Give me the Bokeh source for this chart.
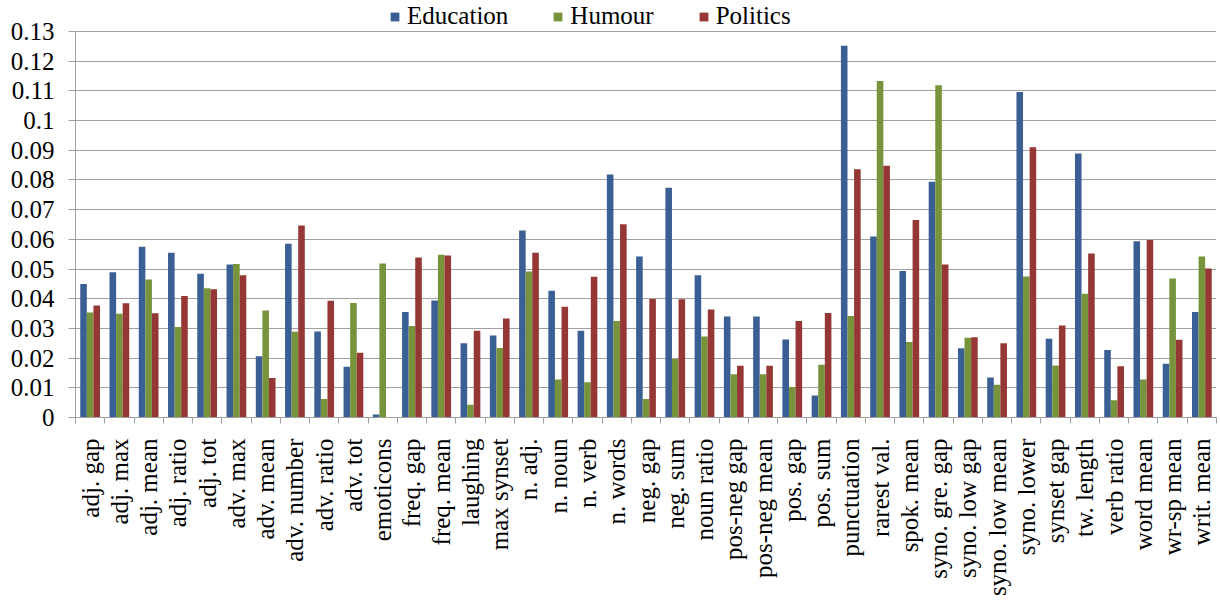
import math
from bokeh.plotting import figure
from bokeh.models import (Range1d, LinearAxis, FixedTicker, Legend, LegendItem,
                          ColumnDataSource)
from bokeh.transform import dodge
from bokeh.embed import file_html
from bokeh.resources import INLINE

categories = ["adj. gap", "adj. max", "adj. mean", "adj. ratio", "adj. tot", "adv. max",
              "adv. mean", "adv. number", "adv. ratio", "adv. tot", "emoticons", "freq. gap",
              "freq. mean", "laughing", "max synset", "n. adj.", "n. noun", "n. verb",
              "n. words", "neg. gap", "neg. sum", "noun ratio", "pos-neg gap", "pos-neg mean",
              "pos. gap", "pos. sum", "punctuation", "rarest val.", "spok. mean",
              "syno. gre. gap", "syno. low gap", "syno. low mean", "syno. lower",
              "synset gap", "tw. length", "verb ratio", "word mean", "wr-sp mean", "writ. mean"]

education = [0.0450, 0.0489, 0.0575, 0.0555, 0.0484, 0.0515, 0.0206, 0.0585, 0.0290, 0.0171,
             0.0010, 0.0355, 0.0394, 0.0250, 0.0276, 0.0630, 0.0427, 0.0292, 0.0818, 0.0542,
             0.0774, 0.0479, 0.0340, 0.0340, 0.0263, 0.0074, 0.1252, 0.0610, 0.0493, 0.0794,
             0.0233, 0.0135, 0.1096, 0.0265, 0.0889, 0.0227, 0.0594, 0.0181, 0.0355]
humour = [0.0354, 0.0349, 0.0465, 0.0305, 0.0435, 0.0517, 0.0360, 0.0289, 0.0062, 0.0386,
          0.0519, 0.0308, 0.0548, 0.0043, 0.0234, 0.0492, 0.0128, 0.0119, 0.0325, 0.0062,
          0.0197, 0.0273, 0.0146, 0.0146, 0.0103, 0.0178, 0.0342, 0.1133, 0.0254, 0.1119,
          0.0269, 0.0110, 0.0475, 0.0175, 0.0417, 0.0058, 0.0128, 0.0468, 0.0542]
politics = [0.0377, 0.0385, 0.0351, 0.0409, 0.0432, 0.0479, 0.0133, 0.0647, 0.0393, 0.0218,
            0.0000, 0.0539, 0.0546, 0.0292, 0.0333, 0.0555, 0.0373, 0.0474, 0.0651, 0.0399,
            0.0398, 0.0364, 0.0174, 0.0174, 0.0325, 0.0352, 0.0836, 0.0848, 0.0665, 0.0515,
            0.0270, 0.0250, 0.0910, 0.0310, 0.0552, 0.0173, 0.0598, 0.0262, 0.0502]

series_names = ["Education", "Humour", "Politics"]
series_colors = ["#3A5F94", "#77933C", "#953735"]

y_ticks = [0, 0.01, 0.02, 0.03, 0.04, 0.05, 0.06, 0.07, 0.08, 0.09, 0.1, 0.11, 0.12, 0.13]
y_tick_labels = ["0", "0.01", "0.02", "0.03", "0.04", "0.05", "0.06", "0.07", "0.08",
                 "0.09", "0.1", "0.11", "0.12", "0.13"]

FONT = "Liberation Serif"
GRAY = "#A0A0A0"
n = len(categories)
centers = [i + 0.5 for i in range(n)]      # category slot centres
bounds = list(range(n + 1))               # category slot boundaries
y_top = y_ticks[-1]

# frame spans the whole height above the x axis; the extra headroom holds the legend
p = figure(x_range=Range1d(0, n), y_range=Range1d(0, y_top * 417 / 386),
           width=1220, height=601, output_backend="svg", toolbar_location=None,
           x_axis_location=None, y_axis_location="left",
           min_border_left=75, min_border_right=4, min_border_top=0, min_border_bottom=184)
p.outline_line_color = None
p.xgrid.visible = False

p.yaxis.ticker = FixedTicker(ticks=y_ticks)
p.yaxis.bounds = (0, y_top)
p.yaxis.major_label_overrides = dict(zip(y_ticks, y_tick_labels))
p.yaxis.major_label_text_font = FONT
p.yaxis.major_label_text_font_size = "25px"
p.yaxis.major_label_text_color = "black"
p.yaxis.axis_line_color = GRAY
p.yaxis.major_tick_line_color = GRAY
p.yaxis.major_tick_out = 7
p.yaxis.major_tick_in = 0
p.yaxis.minor_tick_line_color = None
p.yaxis.major_label_standoff = 14
p.ygrid.grid_line_color = GRAY
p.ygrid.grid_line_width = 1

# boundary ticks between categories
bax = LinearAxis(ticker=FixedTicker(ticks=bounds),
                 major_label_text_font_size="0px", major_label_standoff=0,
                 major_tick_out=6, major_tick_in=0, minor_tick_line_color=None,
                 axis_line_color=GRAY, major_tick_line_color=GRAY)
bax.major_label_overrides = {b: "" for b in bounds}
p.add_layout(bax, "below")

cax = LinearAxis(ticker=FixedTicker(ticks=centers),
                 major_label_overrides=dict(zip(centers, categories)),
                 major_tick_line_color=None, minor_tick_line_color=None, axis_line_color=None,
                 major_label_orientation=math.pi / 2,
                 major_label_text_font=FONT, major_label_text_font_size="25px",
                 major_label_text_color="black", major_label_standoff=9)
p.add_layout(cax, "below")

src = ColumnDataSource(dict(x=centers, Education=education, Humour=humour, Politics=politics))
bar_w = 0.225
items = []
for i, (name, col) in enumerate(zip(series_names, series_colors)):
    r = p.vbar(x=dodge("x", (i - 1) * bar_w), top=name, width=bar_w,
               source=src, fill_color=col, line_color=None)
    items.append(LegendItem(label=name, renderers=[r]))

legend = Legend(items=items, orientation="horizontal", location=(314, 387),
                glyph_width=11, glyph_height=11, label_text_font=FONT,
                label_text_font_size="25px", label_text_color="black",
                label_height=25, spacing=44, label_standoff=7, padding=3, margin=0,
                border_line_color=None, background_fill_alpha=0)
p.add_layout(legend, "center")

open("out.html", "w").write(file_html(p, INLINE))
